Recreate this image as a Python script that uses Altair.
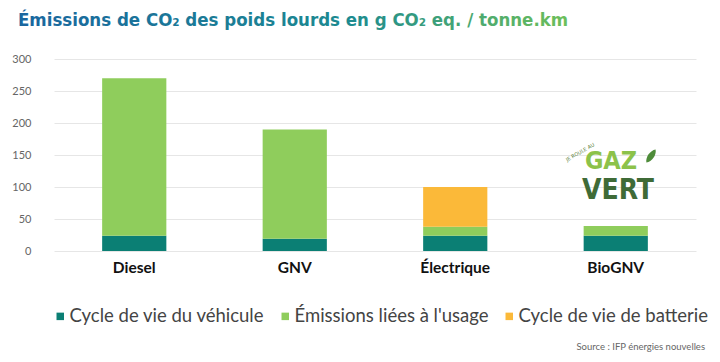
import altair as alt
import pandas as pd

categories = ["Diesel", "GNV", "Électrique", "BioGNV"]
series = ["Cycle de vie du véhicule", "Émissions liées à l'usage", "Cycle de vie de batterie"]
vehicule = [24, 19, 24, 24]
usage = [246, 171, 14, 15]
batterie = [0, 0, 62, 0]
colors = ["#0b7f74", "#8fcd5c", "#fbb939"]
y_ticks = [0, 50, 100, 150, 200, 250, 300]

title_text = "Émissions de CO₂ des poids lourds en g CO₂ eq. / tonne.km"
source_text = "Source : IFP énergies nouvelles"

rows = []
for i, c in enumerate(categories):
    for j, (s, vals) in enumerate(zip(series, [vehicule, usage, batterie])):
        rows.append({"cat": c, "serie": s, "val": vals[i], "ord": j})
df = pd.DataFrame(rows)

bars = alt.Chart(df).mark_bar().encode(
    x=alt.X("cat:N", sort=categories,
            scale=alt.Scale(range=[0, 642], paddingInner=0.6, paddingOuter=0.3),
            axis=alt.Axis(title=None, labelAngle=0, labelFont="Lato", labelFontWeight="bold",
                          labelFontSize=15.5, labelColor="#111", labelPadding=9,
                          ticks=False, domain=False, grid=False)),
    y=alt.Y("val:Q", stack="zero", scale=alt.Scale(domain=[0, 300], nice=False),
            axis=alt.Axis(values=y_ticks, title=None, labelFont="Lato", labelFontSize=11,
                          labelColor="#666", labelPadding=23, ticks=False, domain=False,
                          gridColor="#e6e6e6", gridWidth=1)),
    color=alt.Color("serie:N", sort=series,
                    scale=alt.Scale(domain=series, range=colors),
                    legend=alt.Legend(title=None, orient="none", legendX=-3, legendY=248,
                                      direction="horizontal", symbolType="square",
                                      symbolSize=56, symbolStrokeWidth=0,
                                      labelFont="Lato", labelFontSize=18.5, labelColor="#444",
                                      columnPadding=11, labelLimit=0, labelOffset=0)),
    order=alt.Order("ord:Q"),
)

grad = alt.LinearGradient(
    gradient="linear",
    stops=[alt.GradientStop(color="#1a669f", offset=0),
           alt.GradientStop(color="#1d8a90", offset=0.6),
           alt.GradientStop(color="#6cbf5a", offset=1)],
    x1=0, x2=1, y1=0, y2=0)

title = alt.Chart(pd.DataFrame({"t": [title_text]})).mark_text(
    align="left", baseline="alphabetic", fontSize=18.5,
    font="DejaVu Sans Condensed", fontWeight="bold", color=grad
).encode(x=alt.value(-36), y=alt.value(-33), text="t:N")

source = alt.Chart(pd.DataFrame({"t": [source_text]})).mark_text(
    align="right", baseline="alphabetic", fontSize=9.5, font="Lato", color="#666"
).encode(x=alt.value(651), y=alt.value(291), text="t:N")

gaz = alt.Chart(pd.DataFrame({"t": ["GAZ"]})).mark_text(
    align="center", baseline="alphabetic", fontSize=25,
    font="DejaVu Sans Condensed", fontWeight="bold", color="#8cc24a"
).encode(x=alt.value(557), y=alt.value(110), text="t:N")

vert = alt.Chart(pd.DataFrame({"t": ["VERT"]})).mark_text(
    align="center", baseline="alphabetic", fontSize=28,
    font="DejaVu Sans Condensed", fontWeight="bold", color="#3f6b37"
).encode(x=alt.value(564), y=alt.value(140), text="t:N")

leaf = alt.Chart(pd.DataFrame({"t": [1]})).mark_point(
    shape="M0,-1 C0.5,-0.5 0.5,0.5 0,1 C-0.5,0.5 -0.5,-0.5 0,-1 Z",
    filled=True, size=260, angle=35, color="#4e8c3a", opacity=1
).encode(x=alt.value(597), y=alt.value(97))

roule = alt.Chart(pd.DataFrame({"t": ["JE ROULE AU"]})).mark_text(
    align="center", baseline="middle", fontSize=5, font="DejaVu Sans", color="#5a7f3a", angle=330
).encode(x=alt.value(526), y=alt.value(93), text="t:N")

chart = alt.layer(bars, title, source, gaz, vert, leaf, roule).properties(
    width=656, height=192,
    padding={"left": 46, "top": 51, "right": 2, "bottom": 103},
    autosize=alt.AutoSizeParams(type="none"),
).configure_view(strokeWidth=0)

chart.save("out.html", embed_options={"renderer": "svg", "actions": False})
